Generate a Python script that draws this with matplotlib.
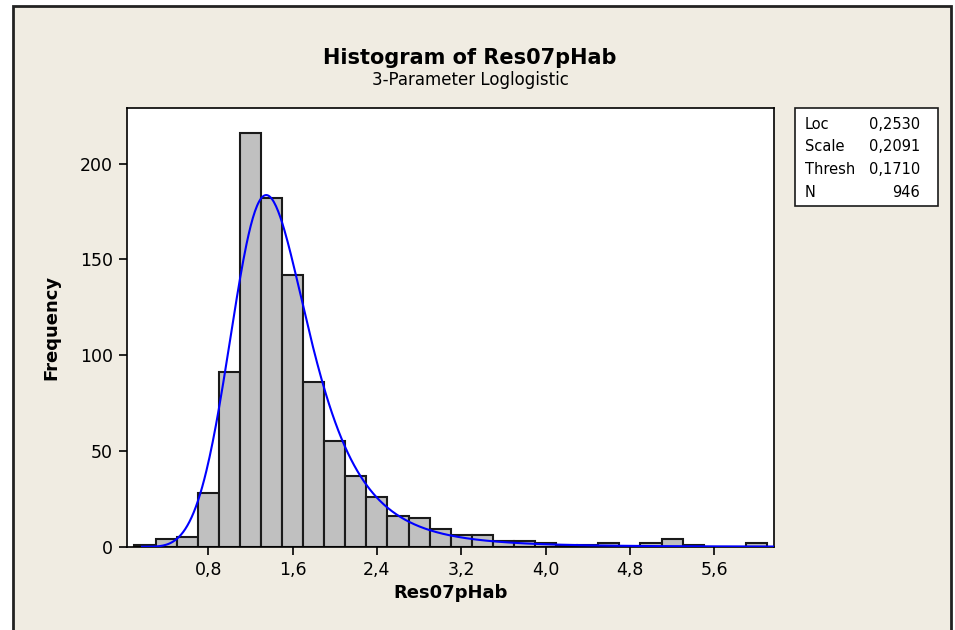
import numpy as np
import matplotlib
matplotlib.use('Agg')
import matplotlib.pyplot as plt
from matplotlib.patches import Rectangle

# histogram bins (centres) and counts
bin_centers = [0.2, 0.4, 0.6, 0.8, 1.0, 1.2, 1.4, 1.6, 1.8, 2.0,
               2.2, 2.4, 2.6, 2.8, 3.0, 3.2, 3.4, 3.6, 3.8, 4.0,
               4.2, 4.4, 4.6, 4.8, 5.0, 5.2, 5.4, 5.6, 5.8, 6.0]
counts = [1, 4, 5, 28, 91, 216, 182, 142, 86, 55,
          37, 26, 16, 15, 9, 6, 6, 3, 3, 2,
          1, 1, 2, 0, 2, 4, 1, 0, 0, 2]
bin_width = 0.2

# fitted 3-parameter loglogistic, as printed in the box
loc = 0.2530
scale = 0.2091
thresh = 0.1710
n_obs = 946

xticks = [0.8, 1.6, 2.4, 3.2, 4.0, 4.8, 5.6]
xtick_labels = ['0,8', '1,6', '2,4', '3,2', '4,0', '4,8', '5,6']
yticks = [0, 50, 100, 150, 200]

bg = '#F0ECE2'
plt.rcParams['font.family'] = 'DejaVu Sans'

fig = plt.figure(figsize=(9.55, 6.3), dpi=100)
fig.patch.set_facecolor('white')
# beige panel with dark frame
fig.patches.append(Rectangle((13/955, -0.05), (951-13)/955, 1.05 - 6/630,
                             transform=fig.transFigure, facecolor=bg,
                             edgecolor='#222222', lw=2, zorder=-2))

ax = fig.add_axes([126.7/955, 1-546.7/630, (774.3-126.7)/955, (546.7-108)/630])
ax.set_zorder(2)
ax.set_facecolor('white')
ax.bar(bin_centers, counts, width=bin_width, color='#C0C0C0',
       edgecolor='#1a1a1a', linewidth=1.5, zorder=2)

xs = np.linspace(thresh + 1e-4, 6.17, 600)
z = (np.log(xs - thresh) - loc) / scale
pdf = np.exp(z) / (scale * (xs - thresh) * (1 + np.exp(z))**2)
ax.plot(xs, pdf * n_obs * bin_width, color='#0000FF', lw=1.5, zorder=3)

ax.set_xlim(0.026, 6.17)
ax.set_ylim(0, 229)
ax.set_xticks(xticks)
ax.set_xticklabels(xtick_labels)
ax.set_yticks(yticks)
ax.tick_params(direction='out', length=6, width=1.2, labelsize=12.5, color='black', pad=4)
ax.tick_params(top=False, right=False)
for s in ax.spines.values():
    s.set_linewidth(1.2)
    s.set_color('black')

ax.set_xlabel('Res07pHab', fontsize=13, fontweight='bold', labelpad=4)
ax.set_ylabel('Frequency', fontsize=13, fontweight='bold', labelpad=14)

fig.text(470/955, 1-58/630, 'Histogram of Res07pHab', ha='center', va='center',
         fontsize=15, fontweight='bold')
fig.text(470/955, 1-80/630, '3-Parameter Loglogistic', ha='center', va='center',
         fontsize=12)

# parameter box
fig.patches.append(Rectangle((795/955, 1-206/630), (938-795)/955, (206-108)/630,
                             transform=fig.transFigure, facecolor='white',
                             edgecolor='#1a1a1a', lw=1.2, zorder=-1))
names = ['Loc', 'Scale', 'Thresh', 'N']
vals = ['0,2530', '0,2091', '0,1710', '946']
row_y = [124.3, 146.7, 169.3, 192.3]
for nm, v, yy in zip(names, vals, row_y):
    fig.text(805/955, 1-yy/630, nm, ha='left', va='center', fontsize=10.5)
    fig.text(920/955, 1-yy/630, v, ha='right', va='center', fontsize=10.5)

fig.savefig('out.png', dpi=100, facecolor=fig.get_facecolor())
